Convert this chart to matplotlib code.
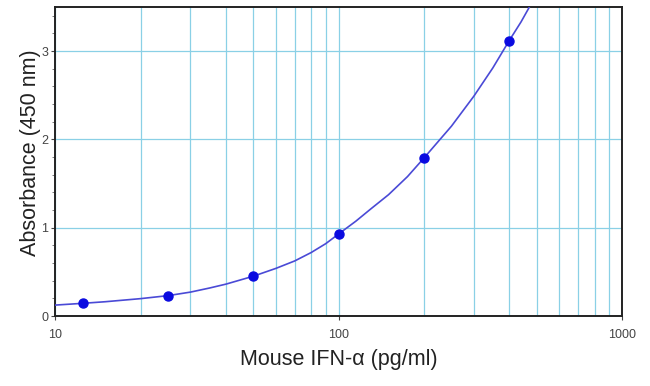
import matplotlib
matplotlib.use("Agg")
import matplotlib.pyplot as plt
from matplotlib.ticker import LogLocator, NullFormatter, FixedLocator, MultipleLocator

plt.rcParams['font.family'] = ['Liberation Sans', 'DejaVu Sans']

# standards (pg/ml) and measured absorbance
conc = [12.5, 25, 50, 100, 200, 400]
absorb = [0.147, 0.23, 0.45, 0.93, 1.79, 3.12]

# fitted standard curve
curve_x = [10, 12.5, 15, 20, 25, 30, 35, 40, 50, 60, 70, 80, 90, 100, 115,
           130, 150, 175, 200, 250, 300, 350, 400, 440, 475]
curve_y = [0.125, 0.145, 0.163, 0.198, 0.232, 0.272, 0.318, 0.362, 0.452,
           0.54, 0.625, 0.72, 0.82, 0.93, 1.075, 1.215, 1.375, 1.58, 1.79, 2.15,
           2.49, 2.81, 3.12, 3.33, 3.52]

fig = plt.figure(figsize=(6.5, 3.86), dpi=100)
ax = fig.add_axes([0.085, 0.181, 0.872, 0.801])

grid_col = '#8ad0e6'
ax.set_xscale('log')
ax.set_xlim(10, 1000)
ax.set_ylim(0, 3.5)
ax.xaxis.set_major_locator(FixedLocator([10, 100, 1000]))
ax.xaxis.set_minor_locator(LogLocator(base=10, subs=range(2, 10)))
ax.xaxis.set_minor_formatter(NullFormatter())
ax.set_xticklabels(['10', '100', '1000'])
ax.set_yticks([0, 1, 2, 3])
ax.yaxis.set_minor_locator(MultipleLocator(0.2))
ax.grid(True, which='both', axis='x', color=grid_col, lw=0.9)
ax.grid(True, which='major', axis='y', color=grid_col, lw=0.9)
ax.set_axisbelow(True)

ax.plot(curve_x, curve_y, color='#4a4ad6', lw=1.2, zorder=3)
ax.plot(conc, absorb, 'o', color='#0a0ae0', ms=6.5, zorder=4)

for s in ax.spines.values():
    s.set_color('#222222')
    s.set_linewidth(1.4)
ax.tick_params(axis='both', which='major', length=3, width=0.8, color='#444444',
               labelsize=9, labelcolor='#444444')
ax.tick_params(axis='x', which='minor', length=0)
ax.tick_params(axis='y', which='minor', length=2, width=0.6, color='#666666')
ax.tick_params(axis='x', which='major', pad=6)
ax.tick_params(axis='y', which='major', pad=2)

ax.set_xlabel('Mouse IFN-α (pg/ml)', fontsize=15.5, color='#222222', labelpad=6)
ax.set_ylabel('Absorbance (450 nm)', fontsize=15.5, color='#222222')
ax.yaxis.set_label_coords(-0.026, 0.53)

fig.savefig('out.png', dpi=100)
